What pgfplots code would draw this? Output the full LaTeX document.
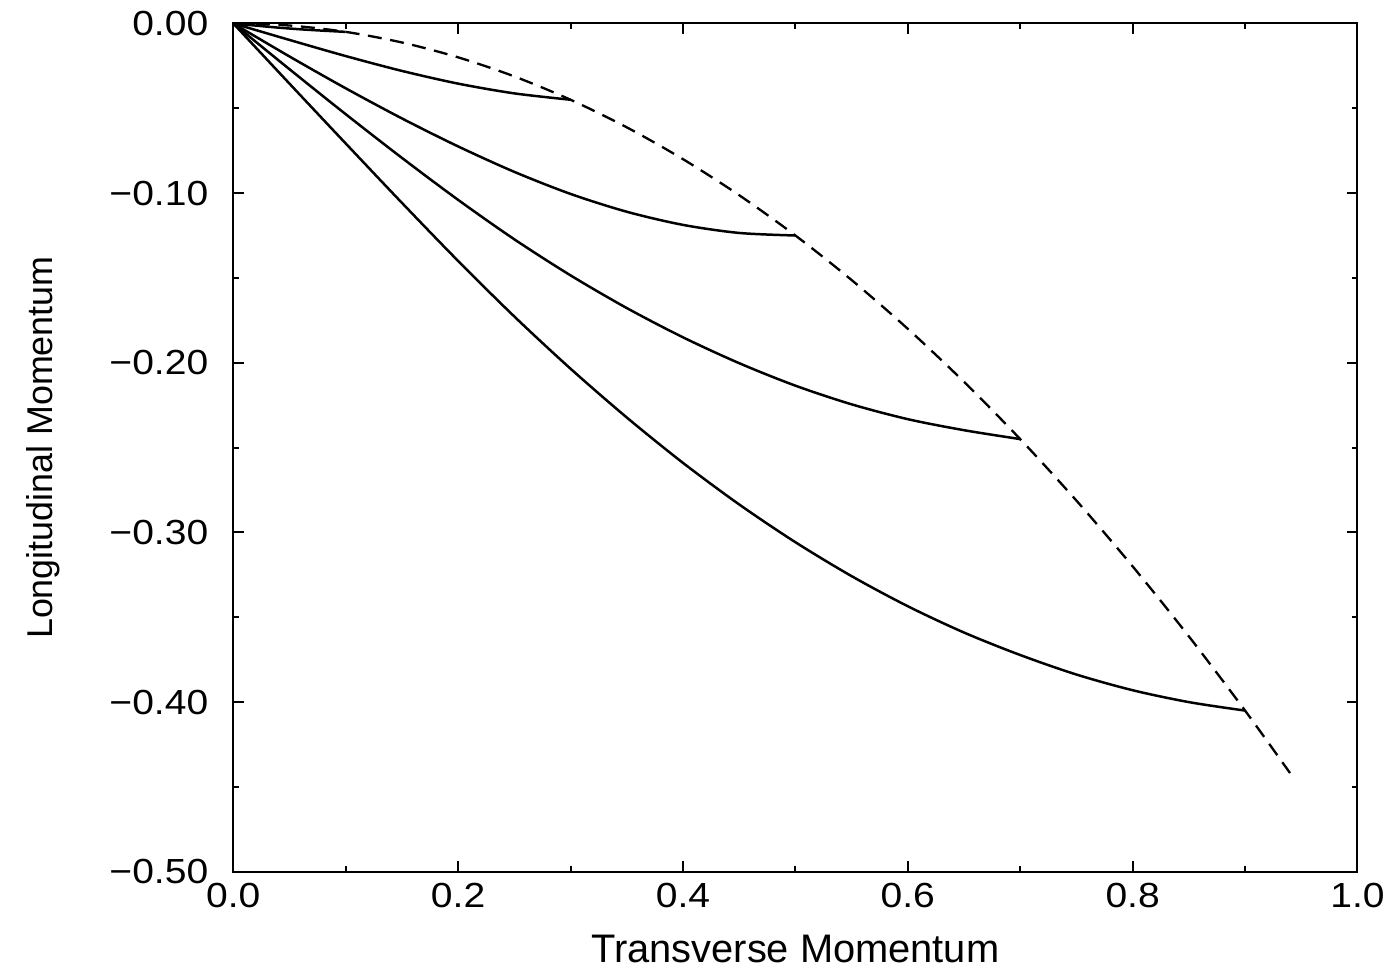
\documentclass[border=0pt]{standalone}
\usepackage{fontspec}
\setmainfont{Liberation Sans}
\usepackage{pgfplots}
\pgfplotsset{compat=1.18}

\begin{document}
\begin{tikzpicture}
\begin{axis}[
    scale only axis,
    width=338.7pt,
    height=255.6pt,
    xmin=0, xmax=1,
    ymin=-0.5, ymax=0,
    xtick={0,0.2,0.4,0.6,0.8,1.0},
    xticklabels={0.0,0.2,0.4,0.6,0.8,1.0},
    ytick={-0.5,-0.4,-0.3,-0.2,-0.1,0},
    yticklabels={−0.50,−0.40,−0.30,−0.20,−0.10,0.00},
    minor x tick num=1,
    minor y tick num=1,
    tick align=inside,
    major tick length=3.3pt,
    minor tick length=1.8pt,
    tick style={line width=0.6pt, black},
    axis line style={line width=0.6pt},
    ticklabel style={font=\fontsize{10.5}{12}\selectfont, xscale=1.12},
    yticklabel style={xshift=-3.2pt},
    xlabel={Transverse Momentum},
    ylabel={Longitudinal Momentum},
    xlabel style={font=\fontsize{12}{14}\selectfont, at={(axis description cs:0.5,-0.0915)}, anchor=center},
    ylabel style={font=\fontsize{10.8}{13}\selectfont, at={(axis description cs:-0.169,0.5)}, anchor=center, inner ysep=8pt},
    clip=false,
]
% envelope p_l = -p_t^2/2
\addplot[black, line width=0.7pt, dash pattern=on 4.2pt off 2.6pt, smooth] coordinates {
    (0,0) (0.05,-0.00125) (0.10,-0.005) (0.15,-0.01125) (0.20,-0.02)
    (0.25,-0.03125) (0.30,-0.045) (0.35,-0.06125) (0.40,-0.08)
    (0.45,-0.10125) (0.50,-0.125) (0.55,-0.15125) (0.60,-0.18)
    (0.65,-0.21125) (0.70,-0.245) (0.75,-0.28125) (0.80,-0.32)
    (0.85,-0.36125) (0.90,-0.405) (0.94,-0.4418)
};
% trajectories
\addplot[black, line width=0.75pt, smooth] coordinates {
    (0,0) (0.02,-0.0013) (0.04,-0.0025) (0.06,-0.0035) (0.08,-0.0043) (0.10,-0.005)
};
\addplot[black, line width=0.75pt, smooth] coordinates {
    (0,0) (0.05,-0.00975) (0.10,-0.01925) (0.15,-0.0280) (0.20,-0.0355)
    (0.25,-0.04125) (0.30,-0.0450)
};
\addplot[black, line width=0.75pt, smooth] coordinates {
    (0,0) (0.05,-0.0195) (0.10,-0.03825) (0.15,-0.0560) (0.20,-0.0725)
    (0.25,-0.0875) (0.30,-0.1005) (0.35,-0.1110) (0.40,-0.11875)
    (0.45,-0.1235) (0.50,-0.1250)
};
\addplot[black, line width=0.75pt, smooth] coordinates {
    (0,0) (0.05,-0.0270) (0.10,-0.0535) (0.15,-0.07925) (0.20,-0.1040)
    (0.25,-0.12725) (0.30,-0.1485) (0.35,-0.16775) (0.40,-0.1850)
    (0.45,-0.20025) (0.50,-0.2135) (0.55,-0.2245) (0.60,-0.23325)
    (0.65,-0.23975) (0.70,-0.2450)
};
\addplot[black, line width=0.75pt, smooth] coordinates {
    (0,0) (0.05,-0.0355) (0.10,-0.07075) (0.15,-0.10575) (0.20,-0.1400)
    (0.25,-0.17275) (0.30,-0.2035) (0.35,-0.23225) (0.40,-0.2590)
    (0.45,-0.2835) (0.50,-0.30575) (0.55,-0.32575) (0.60,-0.3435)
    (0.65,-0.3590) (0.70,-0.37225) (0.75,-0.38375) (0.80,-0.3930)
    (0.85,-0.4000) (0.90,-0.4050)
};
\end{axis}
\end{tikzpicture}
\end{document}
